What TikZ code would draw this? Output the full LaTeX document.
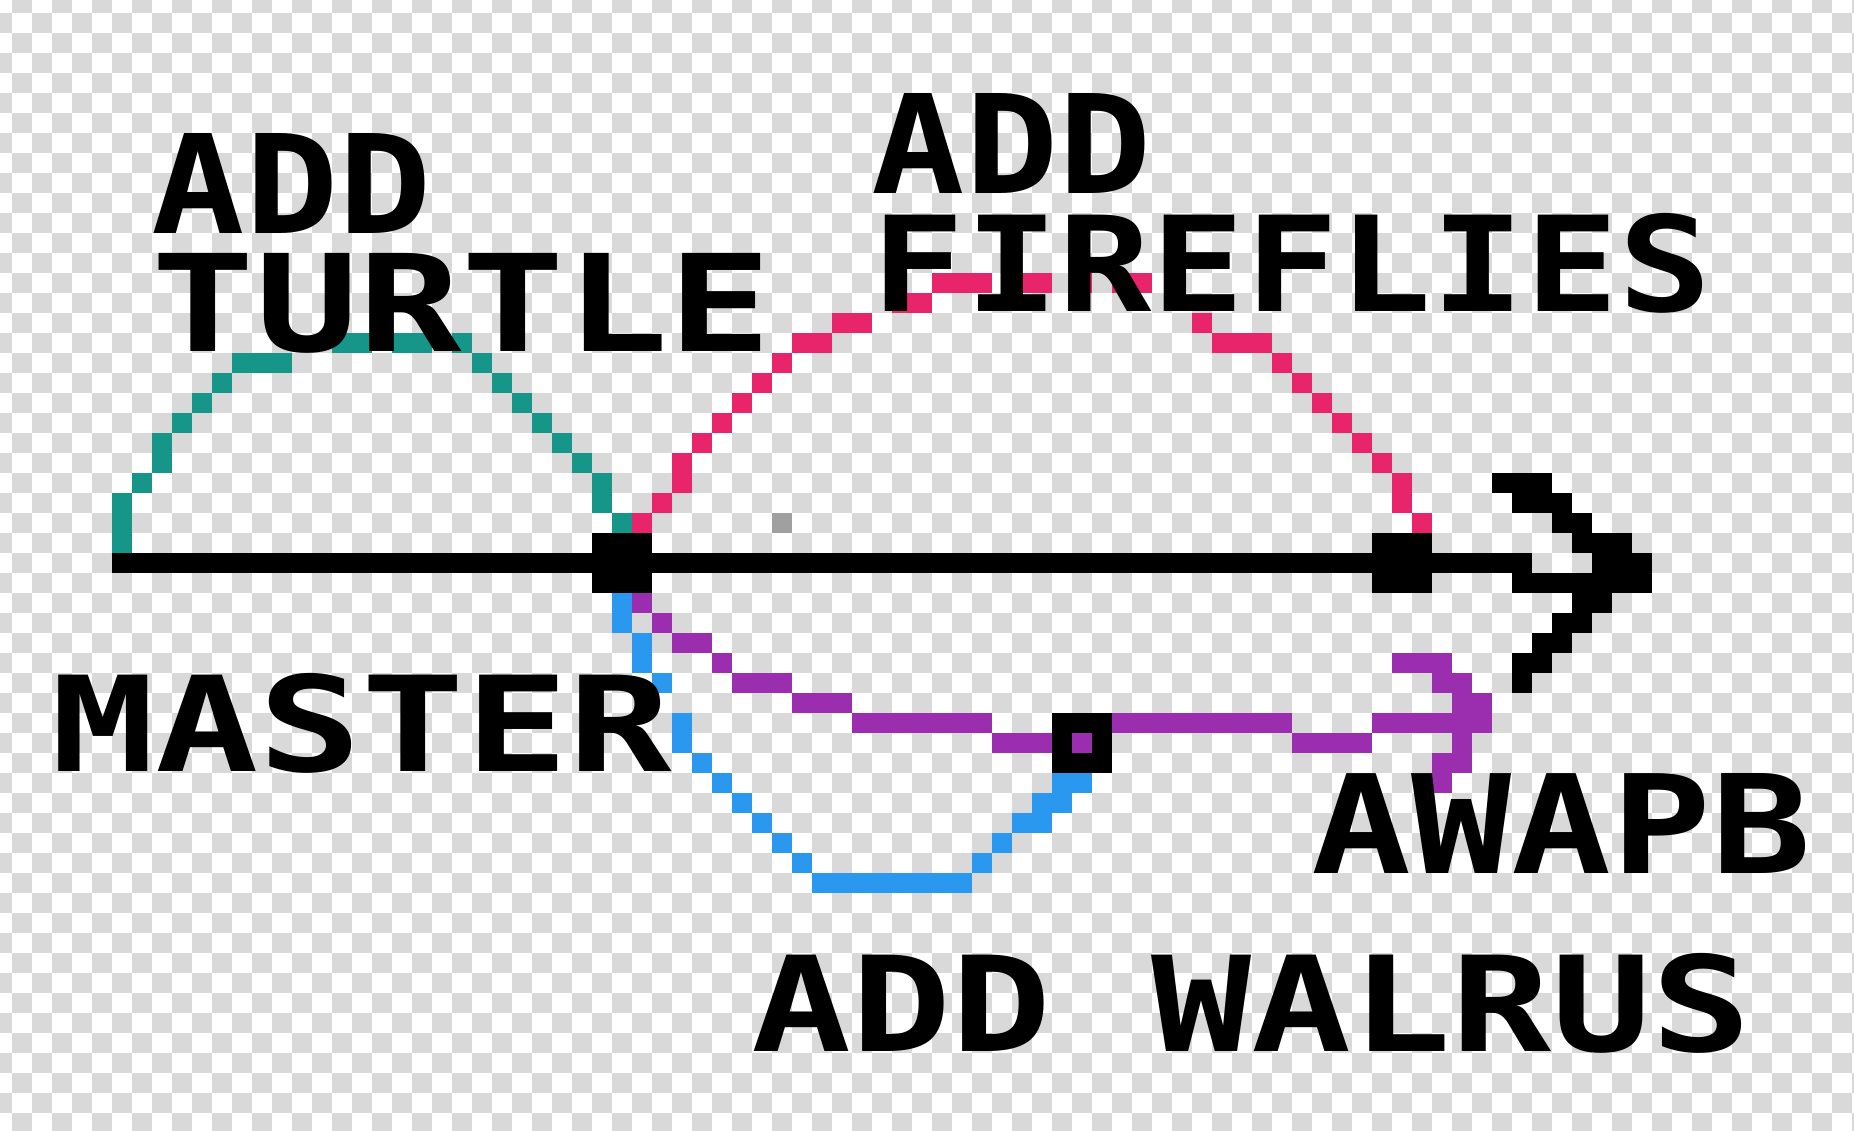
\documentclass[tikz,border=0pt]{standalone}
\usepackage{fontspec}
\usepackage{graphicx}
\newfontfamily\pixfont{DejaVu Sans Mono}
\definecolor{tealc}{HTML}{169689}
\definecolor{pinkc}{HTML}{E8256A}
\definecolor{bluec}{HTML}{2A98EE}
\definecolor{purplec}{HTML}{9B2DAF}
\definecolor{checkc}{HTML}{D9D9D9}
\definecolor{strayc}{HTML}{A0A0A0}
\newcommand\px[4]{\fill[#1] (#2,#3) rectangle ++(#4,1);}
\newcommand\twolines[4]{\vbox{\offinterlineskip\hbox{\resizebox*{#1}{2cm}{#2}}\kern0.4cm\hbox{\resizebox*{#3}{2cm}{#4}}}}
\begin{document}
\begin{tikzpicture}[x=0.4cm,y=-0.4cm,
  lbl/.style={anchor=north west,inner sep=0pt,outer sep=0pt,font=\pixfont\bfseries},
  commit/.style={fill=black,minimum size=1.2cm,inner sep=0pt,outer sep=0pt},
  ring/.style={fill=purplec,draw=black,line width=0.4cm,minimum size=0.8cm,inner sep=0pt,outer sep=0pt},
  checker/.style={draw=checkc,line width=0.4cm,dash pattern=on 0.4cm off 0.4cm},
  mainline/.style={draw=black,line width=0.4cm}]
\useasboundingbox (-0.58333,-0.66667) rectangle (92.11667,55.83333);
% checkerboard background
\begin{scope}
\clip (-0.58333,-0.66667) rectangle (92.11667,55.83333);
\fill[white] (-1,-1) rectangle (93,56);
\foreach \r in {-1,...,55}{
  \pgfmathsetmacro\ph{mod(\r+2,2)*0.4}
  \draw[checker,dash phase=\ph cm] (-1,\r+0.5) -- (93,\r+0.5);
}
\end{scope}
% teal arc (add turtle)
\px{tealc}{16}{16}{2}\px{tealc}{19}{16}{2}\px{tealc}{22}{16}{1}
\px{tealc}{11}{17}{3}\px{tealc}{23}{17}{1}
\px{tealc}{10}{18}{1}\px{tealc}{24}{18}{1}
\px{tealc}{9}{19}{1}\px{tealc}{25}{19}{1}
\px{tealc}{8}{20}{1}\px{tealc}{26}{20}{1}
\px{tealc}{7}{21}{1}\px{tealc}{27}{21}{1}
\px{tealc}{7}{22}{1}\px{tealc}{28}{22}{1}
\px{tealc}{6}{23}{1}\px{tealc}{29}{23}{1}
\px{tealc}{5}{24}{1}\px{tealc}{29}{24}{1}
\px{tealc}{5}{25}{1}\px{tealc}{30}{25}{1}
\px{tealc}{5}{26}{1}
% pink arc (add fireflies)
\px{pinkc}{31}{25}{1}\px{pinkc}{32}{24}{1}
\px{pinkc}{33}{23}{1}\px{pinkc}{33}{22}{1}
\px{pinkc}{34}{21}{1}\px{pinkc}{35}{20}{1}
\px{pinkc}{36}{19}{1}\px{pinkc}{37}{18}{1}
\px{pinkc}{38}{17}{1}\px{pinkc}{39}{16}{2}
\px{pinkc}{41}{15}{2}\px{pinkc}{44}{14}{2}
\px{pinkc}{46}{13}{3}\px{pinkc}{50}{13}{2}\px{pinkc}{53}{13}{1}\px{pinkc}{55}{13}{2}
\px{pinkc}{59}{15}{1}\px{pinkc}{60}{16}{3}
\px{pinkc}{63}{17}{1}\px{pinkc}{64}{18}{1}
\px{pinkc}{65}{19}{1}\px{pinkc}{66}{20}{1}
\px{pinkc}{67}{21}{1}\px{pinkc}{68}{22}{1}
\px{pinkc}{69}{23}{1}\px{pinkc}{69}{24}{1}
\px{pinkc}{70}{25}{1}
% blue arc (add walrus)
\px{bluec}{30}{29}{1}\px{bluec}{30}{30}{1}
\px{bluec}{31}{31}{1}\px{bluec}{31}{32}{1}
\px{bluec}{32}{33}{1}
\px{bluec}{33}{35}{1}\px{bluec}{33}{36}{1}
\px{bluec}{34}{37}{1}\px{bluec}{35}{38}{1}
\px{bluec}{36}{39}{1}\px{bluec}{37}{40}{1}
\px{bluec}{38}{41}{1}\px{bluec}{39}{42}{1}
\px{bluec}{40}{43}{8}
\px{bluec}{48}{42}{1}\px{bluec}{49}{41}{1}
\px{bluec}{50}{40}{2}\px{bluec}{51}{39}{2}
\px{bluec}{52}{38}{2}
% purple line (branch) with arrow
\px{purplec}{31}{29}{1}\px{purplec}{32}{30}{1}
\px{purplec}{33}{31}{2}\px{purplec}{35}{32}{1}
\px{purplec}{36}{33}{3}\px{purplec}{39}{34}{3}
\px{purplec}{42}{35}{7}\px{purplec}{49}{36}{3}
\px{purplec}{55}{35}{9}\px{purplec}{64}{36}{4}
\px{purplec}{68}{35}{6}
\px{purplec}{69}{32}{3}\px{purplec}{71}{33}{2}
\px{purplec}{72}{34}{2}\px{purplec}{72}{36}{1}
\px{purplec}{71}{37}{2}\px{purplec}{71}{38}{1}
% stray pixel
\px{strayc}{38}{25}{1}
% labels
\node[lbl] (addturtle) at (7,6) {\twolines{5.6cm}{ADD}{12.4cm}{TURTLE}};
\node[lbl] (addfire) at (43,4) {\twolines{5.6cm}{ADD}{16.8cm}{FIREFLIES}};
\node[lbl] (master) at (2,33) {\resizebox*{12.4cm}{2cm}{MASTER}};
\node[lbl] (awapb) at (65,38) {\resizebox*{10cm}{2cm}{AWAPB}};
\node[lbl] (walrus) at (37,47) {\resizebox*{20cm}{2cm}{ADD WALRUS}};
% main line
\coordinate (base) at (5,27.5);
\coordinate (shaftend) at (76,27.5);
\draw[mainline] (base) -- (shaftend);
\node[commit] (c1) at (30.5,27.5) {};
\node[commit] (c2) at (69.5,27.5) {};
\node[ring] (w1) at (53.5,36.5) {};
% main arrowhead
\px{black}{74}{23}{3}\px{black}{75}{24}{3}
\px{black}{77}{25}{2}\px{black}{78}{26}{3}
\px{black}{79}{27}{3}\px{black}{75}{28}{7}
\px{black}{78}{29}{2}\px{black}{77}{30}{2}
\px{black}{76}{31}{2}\px{black}{75}{32}{2}
\px{black}{75}{33}{1}
\end{tikzpicture}
\end{document}
